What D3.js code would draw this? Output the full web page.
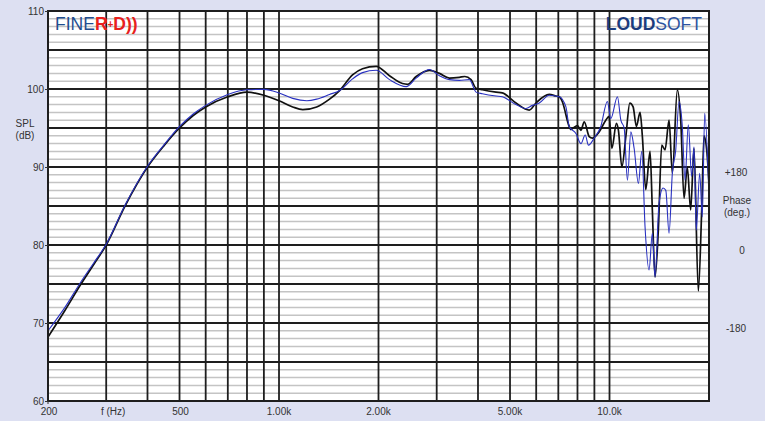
<!DOCTYPE html>
<html><head><meta charset="utf-8">
<script src="https://cdn.jsdelivr.net/npm/d3@7"></script>
<style>
html,body{margin:0;padding:0;background:#dde0f2;}
svg{display:block;font-family:"Liberation Sans",Arial,sans-serif;}
</style></head>
<body>
<svg id="c" width="765" height="421"></svg>
<script>
// ---- data ----
const freqBlack = [200,225,250,275,300,342,400,450,500,550,600,700,800,900,1000,1100,1180,1300,1422,1525,1669,1789,1968,2159,2363,2450,2600,2852,3057,3278,3514,3650,3811,3946,4124,4536,4738,5212,5718,5990,6571,6886,7046,7194,7551,7641,7765,8002,8193,8385,8681,8881,9301,9745,9972,10164,10495,10641,10898,11204,11520,11788,12061,12374,12574,12873,13265,13477,13733,14050,14388,14726,15142,15492,16041,16425,16806,17193,17604,18015,18564,19008,19316,19700,20000];
const splBlack  = [68.2,71.6,74.8,77.5,80.0,85.0,90.0,92.8,95.0,96.6,97.7,99.0,99.6,99.2,98.5,97.7,97.35,97.7,98.7,99.8,101.8,102.6,102.9,101.7,100.7,100.6,101.6,102.4,102.0,101.4,101.5,101.6,101.2,100.1,99.9,99.6,99.5,98.2,97.3,98.2,99.3,99.1,99.0,98.4,95.2,94.8,95.0,95.3,94.7,95.8,93.9,93.7,94.5,96.0,96.5,92.4,95.6,94.7,90.0,93.9,98.2,97.7,95.2,97.0,93.9,87.1,92.0,84.5,75.9,81.9,92.8,92.2,96.0,89.2,99.9,96.0,86.0,90.0,84.5,92.4,74.1,84.5,94.0,92.0,88.0];

const freqBlue = [200,225,250,275,300,342,400,450,500,550,600,700,800,900,1000,1100,1214,1300,1422,1525,1669,1789,1968,2159,2426,2600,2852,3057,3278,3514,3767,3946,4124,4536,4738,5212,5587,5838,6130,6571,7046,7381,7551,7913,8193,8443,8637,8988,9410,9853,10093,10568,10822,11074,11331,11600,11870,12230,12522,12810,13172,13477,13733,14119,14521,14800,15142,15492,15864,16234,16607,16923,17313,17726,18015,18304,18744,19090,19410,20000];
const splBlue  = [69.0,72.0,75.1,77.7,80.1,85.1,90.1,92.9,95.2,96.8,97.9,99.3,99.9,99.95,99.5,98.8,98.5,98.7,99.3,99.8,101.3,102.1,102.4,101.2,100.3,101.4,102.5,101.7,101.2,101.1,101.2,99.6,99.4,99.1,99.0,98.0,97.5,97.9,98.2,99.2,99.0,97.7,95.2,94.3,93.0,94.1,92.8,93.7,95.2,98.4,96.2,99.0,96.0,95.0,88.3,94.5,92.4,87.9,92.0,82.3,76.8,81.5,75.9,85.3,87.3,87.0,81.5,89.2,92.2,98.4,95.2,88.3,95.4,88.8,92.6,81.9,89.2,83.6,96.9,86.0];

const splTicks = [60,70,80,90,100,110];
const freqGrid = [300,400,500,600,700,800,900,1000,2000,3000,4000,5000,6000,7000,8000,9000,10000];
const freqTicks = [200,300,500,1000,2000,5000,10000];
const freqLabels = ["200","f (Hz)","500","1.00k","2.00k","5.00k","10.0k"];
const phaseTicks = [180,0,-180];
const phaseLabels = ["+180","0","-180"];

// ---- layout ----
const L=48,R=709,T=11,B=401;
const x = d3.scaleLog().domain([200,20000]).range([L,R]);
const y = d3.scaleLinear().domain([60,110]).range([B,T]);
const yPhase = d3.scaleLinear().domain([-180,180]).range([y(70),y(90)]);

const svg = d3.select("#c");
svg.append("rect").attr("x",L).attr("y",T).attr("width",R-L).attr("height",B-T).attr("fill","#fff");

// minor horizontal grid (1 dB)
const minor = d3.range(61,110).filter(d=>d%5!==0);
svg.append("g").selectAll("line").data(minor).join("line")
  .attr("x1",L).attr("x2",R).attr("y1",d=>y(d)).attr("y2",d=>y(d))
  .attr("stroke","#c4c4c4").attr("stroke-width",1.5);
// major horizontal grid (5 dB)
const major = d3.range(65,110,5);
svg.append("g").selectAll("line").data(major).join("line")
  .attr("x1",L).attr("x2",R).attr("y1",d=>y(d)).attr("y2",d=>y(d))
  .attr("stroke","#1e1e1e").attr("stroke-width",1.8);
// vertical grid
svg.append("g").selectAll("line").data(freqGrid).join("line")
  .attr("x1",d=>x(d)).attr("x2",d=>x(d)).attr("y1",T).attr("y2",B)
  .attr("stroke","#1e1e1e").attr("stroke-width",1.8);

// curves
const line = d3.line().x(d=>x(d[0])).y(d=>y(d[1])).curve(d3.curveMonotoneX);
const clip = svg.append("clipPath").attr("id","pc").append("rect").attr("x",L).attr("y",T).attr("width",R-L).attr("height",B-T);
const gc = svg.append("g").attr("clip-path","url(#pc)");
gc.append("path").datum(d3.zip(freqBlack,splBlack)).attr("d",line)
  .attr("fill","none").attr("stroke","#111").attr("stroke-width",1.7).attr("stroke-linejoin","round");
gc.append("path").datum(d3.zip(freqBlue,splBlue)).attr("d",line)
  .attr("fill","none").attr("stroke","#2830c0").attr("stroke-width",1.1).attr("stroke-linejoin","round");

// border
svg.append("rect").attr("x",L).attr("y",T).attr("width",R-L).attr("height",B-T)
  .attr("fill","none").attr("stroke","#1e1e1e").attr("stroke-width",2);

// left axis
const yAxis = d3.axisLeft(y).tickValues(splTicks).tickSize(3).tickPadding(1).tickFormat(d3.format("d"));
const ga = svg.append("g").attr("transform",`translate(${L},0)`).call(yAxis);
ga.select(".domain").remove();
ga.selectAll("line").attr("stroke","#333");
ga.selectAll("text").attr("font-size",10).attr("fill","#333").attr("font-family","Liberation Sans,Arial,sans-serif");

// bottom labels
svg.append("g").selectAll("text").data(freqTicks).join("text")
  .attr("x",(d,i)=>x(d)+(i===1?7:(i>=3?0:1)))
  .attr("y",B+14).attr("text-anchor","middle").attr("font-size",10).attr("fill","#333")
  .text((d,i)=>freqLabels[i]);
svg.append("line").attr("x1",L).attr("x2",L).attr("y1",B).attr("y2",B+3).attr("stroke","#333");

// axis titles
svg.append("text").attr("x",25).attr("y",127).attr("text-anchor","middle").attr("font-size",10).attr("fill","#333").text("SPL");
svg.append("text").attr("x",25).attr("y",139).attr("text-anchor","middle").attr("font-size",10).attr("fill","#333").text("(dB)");

// phase labels (right)
svg.append("g").selectAll("text").data(phaseTicks).join("text")
  .attr("x",(d,i)=>i===1?742:736).attr("y",d=>yPhase(d)+9)
  .attr("text-anchor","middle").attr("font-size",10).attr("fill","#333")
  .text((d,i)=>phaseLabels[i]);
svg.append("text").attr("x",737).attr("y",204).attr("text-anchor","middle").attr("font-size",10).attr("fill","#333").text("Phase");
svg.append("text").attr("x",737).attr("y",216).attr("text-anchor","middle").attr("font-size",10).attr("fill","#333").text("(deg.)");

// logos
const f1 = svg.append("text").attr("x",55).attr("y",30).attr("font-size",17.5);
f1.append("tspan").attr("fill","#1f4d8f").text("FINE");
f1.append("tspan").attr("fill","#e8201c").attr("font-weight","bold").text("R");
f1.append("tspan").attr("fill","#e8201c").attr("font-weight","bold").attr("font-size",10).attr("dy",-2).text("+");
f1.append("tspan").attr("fill","#e8201c").attr("font-weight","bold").attr("dy",2).text("D))");

const f2 = svg.append("text").attr("x",702).attr("y",30).attr("text-anchor","end").attr("font-size",17.5);
f2.append("tspan").attr("fill","#1b3c7e").attr("font-weight","bold").text("LOUD");
f2.append("tspan").attr("fill","#2c53a0").text("SOFT");
</script>
</body></html>
